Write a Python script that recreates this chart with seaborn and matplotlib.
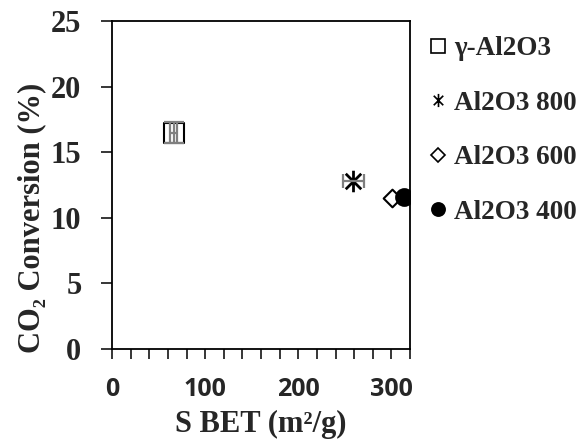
import matplotlib
matplotlib.use("Agg")
import matplotlib.pyplot as plt
from matplotlib.lines import Line2D
from matplotlib.path import Path
from matplotlib.ticker import MultipleLocator
import seaborn as sns
import pandas as pd

samples = ["γ-Al2O3", "Al2O3 800", "Al2O3 600", "Al2O3 400"]
sbet = [66, 259, 301, 313]
conversion = [16.5, 12.8, 11.5, 11.6]
sbet_err = [3.8, 11.5, 0, 0]
conv_err = [0.8, 0, 0, 0]
capsizes = [7, 5, 0, 0]

sns.set_theme(style="white")
plt.rcParams['font.family'] = ['Liberation Serif', 'DejaVu Serif']

# asterisk: vertical bar plus an X
star = Path([(0, -1), (0, 1), (-0.72, -0.72), (0.72, 0.72), (-0.72, 0.72), (0.72, -0.72)],
            [Path.MOVETO, Path.LINETO, Path.MOVETO, Path.LINETO, Path.MOVETO, Path.LINETO])

df = pd.DataFrame({"sample": samples, "sbet": sbet, "conv": conversion})
markers = {"γ-Al2O3": "s", "Al2O3 800": star, "Al2O3 600": "D", "Al2O3 400": "o"}
msizes = {"γ-Al2O3": 15, "Al2O3 800": 15.5, "Al2O3 600": 9, "Al2O3 400": 12}
faces = {"γ-Al2O3": "white", "Al2O3 800": "black", "Al2O3 600": "white", "Al2O3 400": "black"}
lws = {"γ-Al2O3": 1.5, "Al2O3 800": 2.0, "Al2O3 600": 1.5, "Al2O3 400": 1.5}

fig = plt.figure(figsize=(5.85, 4.42), dpi=100)
ax = fig.add_axes([0.1915, 0.2104, 0.5095, 0.7421])

for s in samples:
    sub = df[df["sample"] == s]
    sns.scatterplot(data=sub, x="sbet", y="conv", ax=ax, marker=markers[s],
                    s=msizes[s] ** 2, color=faces[s], edgecolor="black",
                    linewidth=lws[s], zorder=3, legend=False)

# error bars drawn on top of markers
for i in range(len(samples)):
    if sbet_err[i] or conv_err[i]:
        ax.errorbar(sbet[i], conversion[i], xerr=sbet_err[i] or None, yerr=conv_err[i] or None,
                    fmt="none", ecolor="#7f7f7f", elinewidth=1.6, capsize=capsizes[i],
                    capthick=1.6, zorder=4)

ax.set_xlim(0, 320)
ax.set_ylim(0, 25)
ax.xaxis.set_major_locator(MultipleLocator(100))
ax.xaxis.set_minor_locator(MultipleLocator(20))
ax.yaxis.set_major_locator(MultipleLocator(5))
ax.tick_params(axis="x", which="both", direction="out", length=7, width=1.3, bottom=True, pad=12.8)
ax.tick_params(axis="y", which="major", direction="out", length=8, width=1.3, left=True, pad=14)
for sp in ax.spines.values():
    sp.set_color("black")
    sp.set_linewidth(1.3)

for lab in ax.get_xticklabels():
    lab.set_fontfamily("Open Sans")
    lab.set_fontweight("bold")
    lab.set_fontsize(18)
for lab in ax.get_yticklabels():
    lab.set_fontfamily("Liberation Serif")
    lab.set_fontweight("bold")
    lab.set_fontsize(22)

ax.set_xlabel("S BET (m²/g)", fontsize=22, fontweight="bold", labelpad=6.4)
ax.set_ylabel("CO₂ Conversion (%)", fontsize=22, fontweight="bold")
ax.yaxis.set_label_coords(-0.222, 0.40)

handles = []
for s in samples:
    handles.append(Line2D([], [], linestyle="none", marker=markers[s],
                          markersize=7 if s == "Al2O3 600" else 9.5,
                          markerfacecolor=faces[s], markeredgecolor="black", markeredgewidth=1.2))
leg = ax.legend(handles, samples, loc="upper left", bbox_to_anchor=(1.052, 0.953), frameon=False,
                prop={"family": "Liberation Serif", "weight": "bold", "size": 19.5},
                handletextpad=0.1, handlelength=0.95, labelspacing=1.09, borderaxespad=0, borderpad=0)

fig.savefig("out.png", dpi=100)
